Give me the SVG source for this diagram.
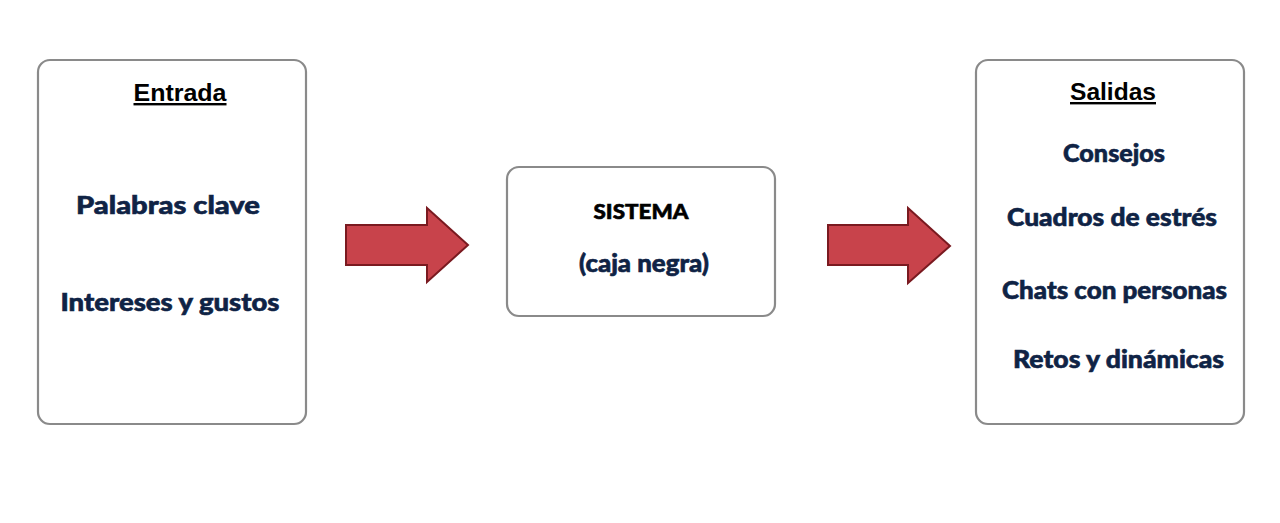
<svg xmlns="http://www.w3.org/2000/svg" width="1280" height="523" viewBox="0 0 1280 523">
<style>
.box{fill:#ffffff;stroke:#8a8a8a;stroke-width:2.2}
.hdr{font-family:"Liberation Sans",Arial,sans-serif;font-weight:bold;font-size:24px;fill:#000;text-decoration:underline;text-anchor:middle}
.item{font-family:"Lato","Open Sans","Liberation Sans",sans-serif;font-weight:900;font-size:24px;fill:#0f2345;stroke:#0f2345;stroke-width:0.6;text-anchor:middle}
.sys{font-family:"Lato","Liberation Sans",sans-serif;font-weight:900;font-size:21px;fill:#000;stroke:#000;stroke-width:0.6;text-anchor:middle}
.arrow{fill:#c8434b;stroke:#7a1a20;stroke-width:2;stroke-linejoin:miter}
</style>
<rect width="1280" height="523" fill="#ffffff"/>
<g id="entrada">
<rect class="box" x="38" y="60" width="268" height="364" rx="12"/>
<text class="hdr" x="180" y="101" textLength="93" lengthAdjust="spacingAndGlyphs">Entrada</text>
<text class="item" x="168" y="214" textLength="184" lengthAdjust="spacingAndGlyphs">Palabras clave</text>
<text class="item" x="170" y="311" textLength="219" lengthAdjust="spacingAndGlyphs">Intereses y gustos</text>
</g>
<g id="sistema">
<rect class="box" x="507" y="167" width="268" height="149" rx="12"/>
<text class="sys" x="641" y="219" textLength="95" lengthAdjust="spacingAndGlyphs">SISTEMA</text>
<text class="item" x="644" y="272" font-size="21" textLength="130" lengthAdjust="spacingAndGlyphs">(caja negra)</text>
</g>
<g id="salidas">
<rect class="box" x="976" y="60" width="268" height="364" rx="12"/>
<text class="hdr" x="1113" y="100" textLength="86" lengthAdjust="spacingAndGlyphs">Salidas</text>
<text class="item" x="1114" y="162" textLength="102" lengthAdjust="spacingAndGlyphs">Consejos</text>
<text class="item" x="1112" y="226" textLength="210" lengthAdjust="spacingAndGlyphs">Cuadros de estrés</text>
<text class="item" x="1114.5" y="299" textLength="225" lengthAdjust="spacingAndGlyphs">Chats con personas</text>
<text class="item" x="1118.5" y="368" textLength="211" lengthAdjust="spacingAndGlyphs">Retos y dinámicas</text>
</g>
<g id="connectors">
<polygon class="arrow" points="346,225 427,225 427,208 468,245 427,282 427,265 346,265"/>
<polygon class="arrow" points="828,225 908,225 908,208 950,246 908,283 908,265 828,265"/>
</g>
</svg>
